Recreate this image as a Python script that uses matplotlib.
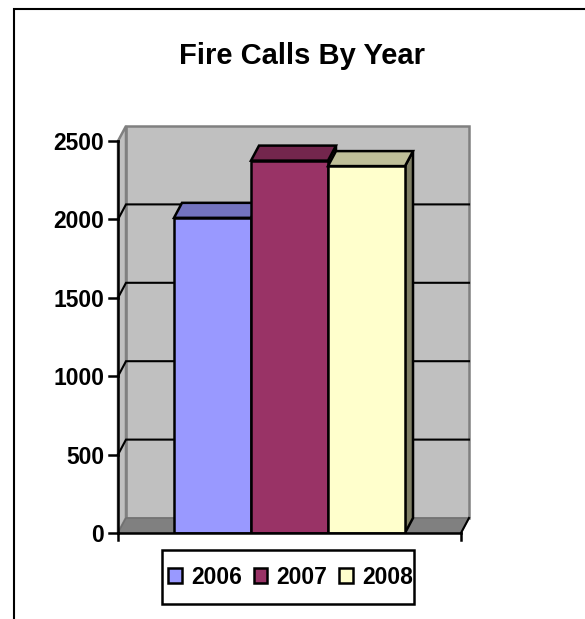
import matplotlib
matplotlib.use("Agg")
import matplotlib.pyplot as plt
from matplotlib.patches import Patch, Polygon, Rectangle

years = ["2006", "2007", "2008"]
calls = [2010, 2375, 2340]
front_colors = ["#9999FF", "#993366", "#FFFFCC"]
top_colors = ["#7373BF", "#73264D", "#BFBF99"]
side_colors = ["#5C5C99", "#5C1F3D", "#808066"]
y_ticks = [0, 500, 1000, 1500, 2000, 2500]

W, H = 585, 619
plt.rcParams["font.family"] = ["Liberation Sans", "DejaVu Sans"]

fig = plt.figure(figsize=(W / 100, H / 100), dpi=100)

# axes covers the front plane plus the 3d depth offset
ax = fig.add_axes([118 / W, 1 - 533 / H, 351 / W, 407 / H])
bar_px = 77
px_y = 2500 / 392
ax.set_xlim(-343 / bar_px / 2, -343 / bar_px / 2 + 351 / bar_px)
ax.set_ylim(0, 407 * px_y)
ax.axis("off")

x0 = -343 / bar_px / 2
x1 = 343 / bar_px / 2
top = y_ticks[-1]
dx = 8 / bar_px
dy = 15 * px_y
wall_edge = "#808080"
lw_main = 1.8


def poly(pts, face, edge="black", lw=lw_main, z=2):
    ax.add_patch(Polygon(pts, closed=True, facecolor=face, edgecolor=edge,
                         linewidth=lw, zorder=z, clip_on=False, joinstyle="miter"))


# walls and floor
poly([(x0 + dx, dy), (x1 + dx, dy), (x1 + dx, top + dy), (x0 + dx, top + dy)],
     "#C0C0C0", wall_edge, lw_main, 1)
poly([(x0, 0), (x0 + dx, dy), (x0 + dx, top + dy), (x0, top)],
     "#C0C0C0", wall_edge, lw_main, 1)
poly([(x0, 0), (x1, 0), (x1 + dx, dy), (x0 + dx, dy)], "#808080", "#707070", 1.0, 1)

# gridlines on back and side wall
for t in y_ticks[1:-1]:
    ax.plot([x0, x0 + dx, x1 + dx], [t, t + dy, t + dy], color="black", lw=1.5,
            zorder=1.5, clip_on=False, solid_joinstyle="miter")

# bars, left to right so each one covers the side of the previous
for i, (v, fc, tc, sc) in enumerate(zip(calls, front_colors, top_colors, side_colors)):
    x = i - 1.5
    poly([(x + 1, 0), (x + 1 + dx, dy), (x + 1 + dx, v + dy), (x + 1, v)], sc, z=3 + i)
    poly([(x, v), (x + 1, v), (x + 1 + dx, v + dy), (x + dx, v + dy)], tc, z=3 + i)
    ax.bar(x + 0.5, v, width=1, color=fc, edgecolor="black", linewidth=lw_main, zorder=3.5 + i)

# axis lines and ticks
ax.plot([x0, x0], [0, top], color="black", lw=lw_main, zorder=9, clip_on=False)
ax.plot([x0, x1], [0, 0], color="black", lw=lw_main, zorder=9, clip_on=False)
ax.plot([x0, x0], [0, -7 * px_y], color="black", lw=lw_main, zorder=9, clip_on=False)
ax.plot([x1, x1], [0, -7 * px_y], color="black", lw=lw_main, zorder=9, clip_on=False)
ax.plot([x1, x1 + dx], [0, dy], color="black", lw=1.5, zorder=9, clip_on=False)
for t in y_ticks:
    ax.plot([x0 - 9 / bar_px, x0], [t, t], color="black", lw=lw_main, zorder=9, clip_on=False)
    ax.text(x0 - 14 / bar_px, t, str(t), ha="right", va="center_baseline",
            fontsize=16.5, fontweight="bold", color="black")

fig.text(302 / W, 1 - 56 / H, "Fire Calls By Year", ha="center", va="center",
         fontsize=21, fontweight="bold", color="black")

# legend, frame drawn separately since the box is much taller than its text
fig.add_artist(Rectangle((162 / W, 1 - 604 / H), 252 / W, 54 / H, transform=fig.transFigure,
                         facecolor="white", edgecolor="black", linewidth=lw_main))
handles = [Patch(facecolor=c, edgecolor="black", linewidth=lw_main) for c in front_colors]
leg = fig.legend(handles, years, ncol=3, loc="center left",
                 bbox_to_anchor=(168 / W, 1 - 577 / H),
                 prop={"weight": "bold", "size": 16.5}, frameon=False,
                 handlelength=0.6, handleheight=0.6,
                 handletextpad=0.4, columnspacing=0.52, borderpad=0, borderaxespad=0)

# outer chart border, runs off the right and bottom of the picture
fig.add_artist(plt.Line2D([13.5 / W, 13.5 / W, 1], [0, 1 - 9 / H, 1 - 9 / H],
                          color="black", lw=1.5, solid_joinstyle="miter"))

fig.savefig("out.png", dpi=100, facecolor="white")
